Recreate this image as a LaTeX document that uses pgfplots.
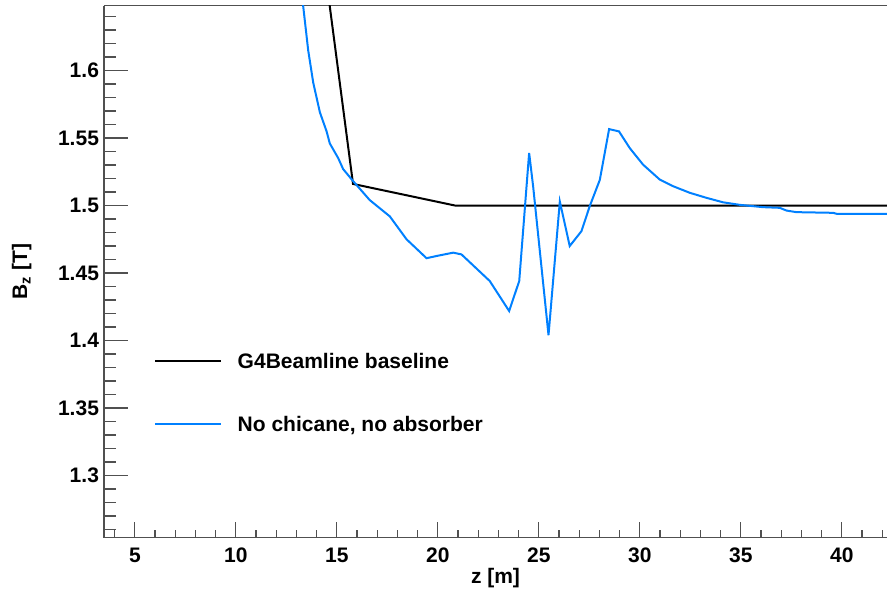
\documentclass[border=0pt]{standalone}
\usepackage{fontspec}
\setmainfont{Liberation Sans}
\usepackage{pgfplots}
\pgfplotsset{compat=1.18}

\definecolor{rootblue}{RGB}{0,128,255}
\definecolor{framegray}{RGB}{80,80,80}

% B_z along the beamline, G4Beamline baseline
\pgfplotstableread{
z     Bz
14.40 1.676
15.80 1.5160
20.85 1.5000
42.50 1.5000
}\baseline

% B_z without chicane and absorber
\pgfplotstableread{
z     Bz
13.10 1.672
13.33 1.648
13.58 1.615
13.83 1.591
14.16 1.569
14.49 1.555
14.65 1.546
15.07 1.535
15.31 1.527
15.81 1.518
16.63 1.504
17.62 1.492
18.45 1.475
19.44 1.461
19.93 1.4626
20.76 1.4651
21.17 1.4638
22.57 1.4441
23.53 1.4219
24.03 1.4441
24.52 1.539
24.72 1.514
25.48 1.404
26.04 1.503
26.53 1.470
27.11 1.481
27.52 1.4995
28.02 1.519
28.48 1.5566
28.97 1.5549
29.50 1.5426
30.16 1.5303
30.99 1.5192
31.65 1.5143
32.48 1.5094
33.30 1.5057
34.12 1.5024
34.95 1.5005
36.10 1.4988
36.93 1.4983
37.26 1.4963
37.75 1.4951
39.57 1.4946
39.74 1.4939
42.50 1.4939
}\nochicane

\begin{document}
\begin{tikzpicture}
\begin{axis}[
  name=ax,
  at={(0,0)}, anchor=south west,
  scale only axis,
  width=391.5pt, height=266pt,
  xmin=3.47, xmax=42.24,
  ymin=1.254, ymax=1.648,
  axis x line*=box, axis y line*=left,
  axis line style={framegray, line width=0.65pt},
  tick align=inside,
  xtick pos=lower, ytick pos=lower,
  xtick={5,10,15,20,25,30,35,40},
  minor xtick={4,6,7,8,9,11,12,13,14,16,17,18,19,21,22,23,24,26,27,28,29,31,32,33,34,36,37,38,39,41,42},
  ytick={1.3,1.35,1.4,1.45,1.5,1.55,1.6},
  minor ytick={1.26,1.27,1.28,1.29,1.31,1.32,1.33,1.34,1.36,1.37,1.38,1.39,1.41,1.42,1.43,1.44,1.46,1.47,1.48,1.49,1.51,1.52,1.53,1.54,1.56,1.57,1.58,1.59,1.61,1.62,1.63,1.64},
  xtick style={framegray, line width=0.6pt, /pgfplots/major tick length=8pt, /pgfplots/minor tick length=4pt},
  ytick style={framegray, line width=0.6pt, /pgfplots/major tick length=12pt, /pgfplots/minor tick length=6pt},
  /pgf/number format/assume math mode=true,
  ticklabel style={font=\bfseries\fontsize{10.5}{12}\selectfont},
  xticklabel style={yshift=-1.5pt},
  yticklabel style={xshift=1pt},
  xlabel={z [m]},
  ylabel={B\textsubscript{z} [T]},
  label style={font=\bfseries\fontsize{10.5}{12}\selectfont},
  xlabel style={at={(axis description cs:0.5,0)}, anchor=center, yshift=-20pt},
  ylabel style={at={(axis description cs:-0.105,0.5)}, anchor=center},
  legend cell align=left,
  % short sample line followed by a gap before the entry text
  legend image code/.code={\draw[#1] (0pt,0pt) -- (33pt,0pt); \path (40.7pt,0pt);},
  legend style={
    at={(axis description cs:0.0643,0.3466)}, anchor=north west,
    draw=none, fill=none, inner sep=0pt, outer sep=0pt,
    row sep=24.2pt, column sep=0pt,
    font=\bfseries\fontsize{10.5}{12}\selectfont,
    nodes={inner sep=0pt, text height=7.52pt, text depth=0pt},
  },
  legend columns=1,
]
\addplot[black, line width=1pt] table[x=z, y=Bz] {\baseline};
\addlegendentry{G4Beamline baseline}
\addplot[rootblue, line width=1pt] table[x=z, y=Bz] {\nochicane};
\addlegendentry{No chicane, no absorber}
\end{axis}
\pgfresetboundingbox
\path ([xshift=-52pt,yshift=-30.15pt]ax.south west) rectangle ([yshift=2.85pt]ax.north east);
\end{tikzpicture}
\end{document}
